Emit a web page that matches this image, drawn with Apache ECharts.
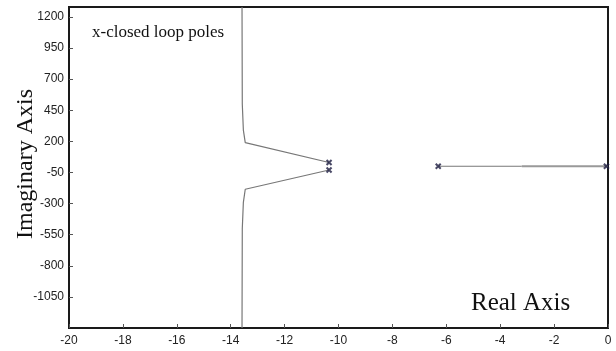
<!DOCTYPE html>
<html>
<head>
<meta charset="utf-8">
<script src="https://cdn.jsdelivr.net/npm/echarts@6/dist/echarts.min.js"></script>
<style>
  html, body { margin: 0; padding: 0; background: #fff; }
  #chart { width: 616px; height: 351px; }
</style>
</head>
<body>
<div id="chart"></div>
<script>
// root locus branches (real, imaginary)
const upperBranch = [[-13.58, 1280], [-13.57, 500], [-13.53, 290], [-13.46, 190], [-10.35, 30]]
const lowerBranch = [[-10.35, -30], [-13.46, -185], [-13.53, -290], [-13.57, -500], [-13.58, -1300]]
const realBranchA = [[-6.3, 0], [-3.2, 0]]
const realBranchB = [[-3.2, 0], [0, 0]]
const closedLoopPoles = [[-10.35, 30], [-10.35, -30], [-6.3, 0], [-0.06, 0]]

const xMin = -20, xMax = 0, xStep = 2
const yMin = -1300, yMax = 1280, yStep = 250

const serif = '"Liberation Serif", "Times New Roman", serif'
const sans = '"Liberation Sans Narrow", "Liberation Sans", Arial, sans-serif'

const chart = echarts.init(document.getElementById('chart'))

const branchLine = (data, color, width) => ({
  type: 'line',
  data: data,
  showSymbol: false,
  smooth: false,
  lineStyle: { color: color, width: width },
  silent: true
})

chart.setOption({
  animation: false,
  grid: {
    left: 69, right: 8, top: 7, bottom: 23,
    show: true,
    borderColor: '#1a1a1a',
    borderWidth: 2
  },
  xAxis: {
    type: 'value',
    min: xMin, max: xMax, interval: xStep,
    axisLine: { onZero: false, lineStyle: { color: '#1a1a1a', width: 2 } },
    axisTick: { inside: true, length: 4, lineStyle: { color: '#555' } },
    axisLabel: { color: '#222', fontSize: 12, fontFamily: sans, margin: 7 },
    splitLine: { show: false }
  },
  yAxis: {
    type: 'value',
    min: yMin, max: yMax, interval: yStep,
    axisLine: { onZero: false, lineStyle: { color: '#1a1a1a', width: 2 } },
    axisTick: { inside: true, length: 4, lineStyle: { color: '#555' } },
    axisLabel: {
      color: '#222', fontSize: 12, fontFamily: sans, margin: 5,
      showMinLabel: false, showMaxLabel: false,
      formatter: v => String(v)
    },
    splitLine: { show: false }
  },
  graphic: [
    {
      type: 'text', left: 297, top: -19,
      style: { text: '(Expanded view)', font: '19px ' + serif, fill: '#111' }
    },
    {
      type: 'text', x: 92, y: 33,
      style: { text: 'x-closed loop poles', font: '17px ' + serif, fill: '#111', verticalAlign: 'middle' }
    },
    {
      type: 'text', x: 471, y: 303,
      style: { text: 'Real Axis', font: '25px ' + serif, fill: '#111', verticalAlign: 'middle' }
    },
    {
      type: 'text', x: 26, y: 164, rotation: Math.PI / 2,
      style: { text: 'Imaginary Axis', font: '24px ' + serif, fill: '#111', align: 'center', verticalAlign: 'middle' }
    }
  ],
  series: [
    branchLine(upperBranch, '#777', 1.2),
    branchLine(lowerBranch, '#777', 1.2),
    branchLine(realBranchA, '#777', 1.2),
    branchLine(realBranchB, '#999', 1.8),
    {
      type: 'scatter',
      data: closedLoopPoles,
      symbol: 'path://M0,0L10,10M10,0L0,10',
      symbolSize: 5,
      itemStyle: { color: 'none', borderColor: '#1c1c40', borderWidth: 2 },
      z: 5
    }
  ]
})
</script>
</body>
</html>
